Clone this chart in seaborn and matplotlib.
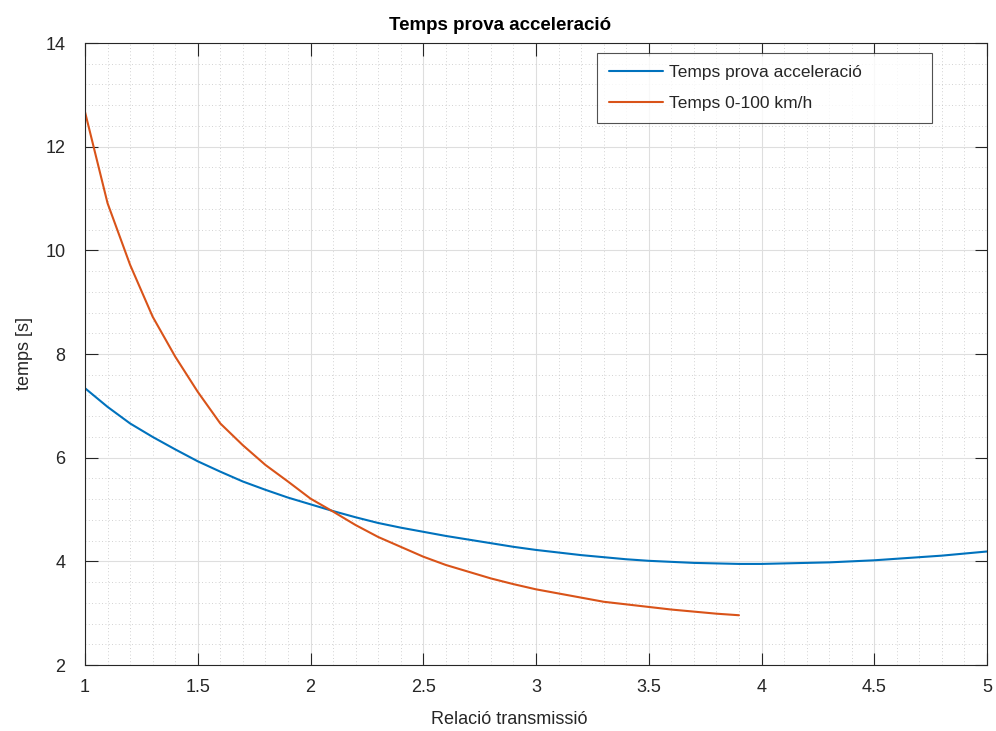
import numpy as np
import pandas as pd
import matplotlib
matplotlib.use("Agg")
import matplotlib.pyplot as plt
import seaborn as sns
from matplotlib.ticker import MultipleLocator

# Data
x_prova = [1.0, 1.1, 1.2, 1.3, 1.4, 1.5, 1.6, 1.7, 1.8, 1.9, 2.0,
           2.1, 2.2, 2.3, 2.4, 2.5, 2.6, 2.7, 2.8, 2.9, 3.0,
           3.1, 3.2, 3.3, 3.4, 3.5, 3.6, 3.7, 3.8, 3.9, 4.0,
           4.1, 4.2, 4.3, 4.4, 4.5, 4.6, 4.7, 4.8, 4.9, 5.0]
t_prova = [7.34, 6.98, 6.66, 6.40, 6.16, 5.93, 5.73, 5.54, 5.38, 5.23, 5.10,
           4.97, 4.85, 4.74, 4.65, 4.57, 4.49, 4.42, 4.35, 4.28, 4.22,
           4.17, 4.12, 4.08, 4.04, 4.01, 3.99, 3.97, 3.96, 3.95, 3.95,
           3.96, 3.97, 3.98, 4.00, 4.02, 4.05, 4.08, 4.11, 4.15, 4.19]
x_0100 = [1.0, 1.1, 1.2, 1.3, 1.4, 1.5, 1.6, 1.7, 1.8, 1.9, 2.0,
          2.1, 2.2, 2.3, 2.4, 2.5, 2.6, 2.7, 2.8, 2.9, 3.0,
          3.1, 3.2, 3.3, 3.4, 3.5, 3.6, 3.7, 3.8, 3.9]
t_0100 = [12.67, 10.91, 9.72, 8.72, 7.95, 7.27, 6.66, 6.24, 5.86, 5.54, 5.21,
          4.96, 4.70, 4.47, 4.28, 4.09, 3.93, 3.80, 3.67, 3.56, 3.46,
          3.38, 3.30, 3.22, 3.17, 3.12, 3.07, 3.03, 2.99, 2.96]
labels = ["Temps prova acceleració", "Temps 0-100 km/h"]
xtick_vals = [1, 1.5, 2, 2.5, 3, 3.5, 4, 4.5, 5]
xtick_labels = ["1", "1.5", "2", "2.5", "3", "3.5", "4", "4.5", "5"]

df = pd.concat([
    pd.DataFrame({"x": x_prova, "t": t_prova, "serie": labels[0]}),
    pd.DataFrame({"x": x_0100, "t": t_0100, "serie": labels[1]}),
])

sns.set_style("white")
plt.rcParams["font.family"] = ["Liberation Sans", "DejaVu Sans"]

fig = plt.figure(figsize=(9.96, 7.31), dpi=100)
ax = fig.add_axes([85/996, 1-665/731, (987-85)/996, (665-43)/731])

sns.lineplot(data=df, x="x", y="t", hue="serie", hue_order=labels,
             palette=["#0072BD", "#D95319"], linewidth=1.5, ax=ax,
             sort=False, estimator=None)

ax.set_xlim(1, 5)
ax.set_ylim(2, 14)
ax.set_xticks(xtick_vals)
ax.set_xticklabels(xtick_labels)
ax.xaxis.set_minor_locator(MultipleLocator(0.1))
ax.yaxis.set_major_locator(MultipleLocator(2))
ax.yaxis.set_minor_locator(MultipleLocator(0.4))

ax.grid(True, which="major", color="#dedede", linewidth=0.8, linestyle="-")
ax.grid(True, which="minor", color="#c4c4c4", linewidth=0.6, linestyle=(0, (1, 3)))
ax.set_axisbelow(True)

for s in ax.spines.values():
    s.set_color("#262626")
    s.set_linewidth(0.8)
    s.set_visible(True)
ax.tick_params(which="major", direction="in", length=9, width=0.8,
               left=True, bottom=True, top=True, right=True,
               color="#262626", labelcolor="#262626", labelsize=13)
ax.tick_params(axis="x", which="major", pad=10)
ax.tick_params(axis="y", which="major", pad=14)
ax.tick_params(which="minor", length=0, left=False, bottom=False,
               top=False, right=False)

ax.set_title("Temps prova acceleració", fontsize=13.5, fontweight="bold",
             color="black", pad=9, x=0.46)
ax.set_xlabel("Relació transmissió", fontsize=13, color="#262626")
ax.xaxis.set_label_coords(0.47, -0.074)
ax.set_ylabel("temps [s]", fontsize=13, color="#262626", labelpad=9)

# legend box: x 597-932 px, y 53-122 px
lx0 = (597 - 85) / 902
lw = (932 - 597) / 902
ly1 = (665 - 53) / 622
leg = ax.legend(loc="upper left", bbox_to_anchor=(lx0, ly1 - 0.2, lw, 0.2),
                mode="expand", fontsize=12.5, frameon=True, fancybox=False,
                edgecolor="#262626", handlelength=3.1, borderpad=0.68,
                labelspacing=0.92, handletextpad=0.35, borderaxespad=0)
leg.get_frame().set_linewidth(0.8)
leg.set_title(None)

fig.savefig("out.png", dpi=100)
